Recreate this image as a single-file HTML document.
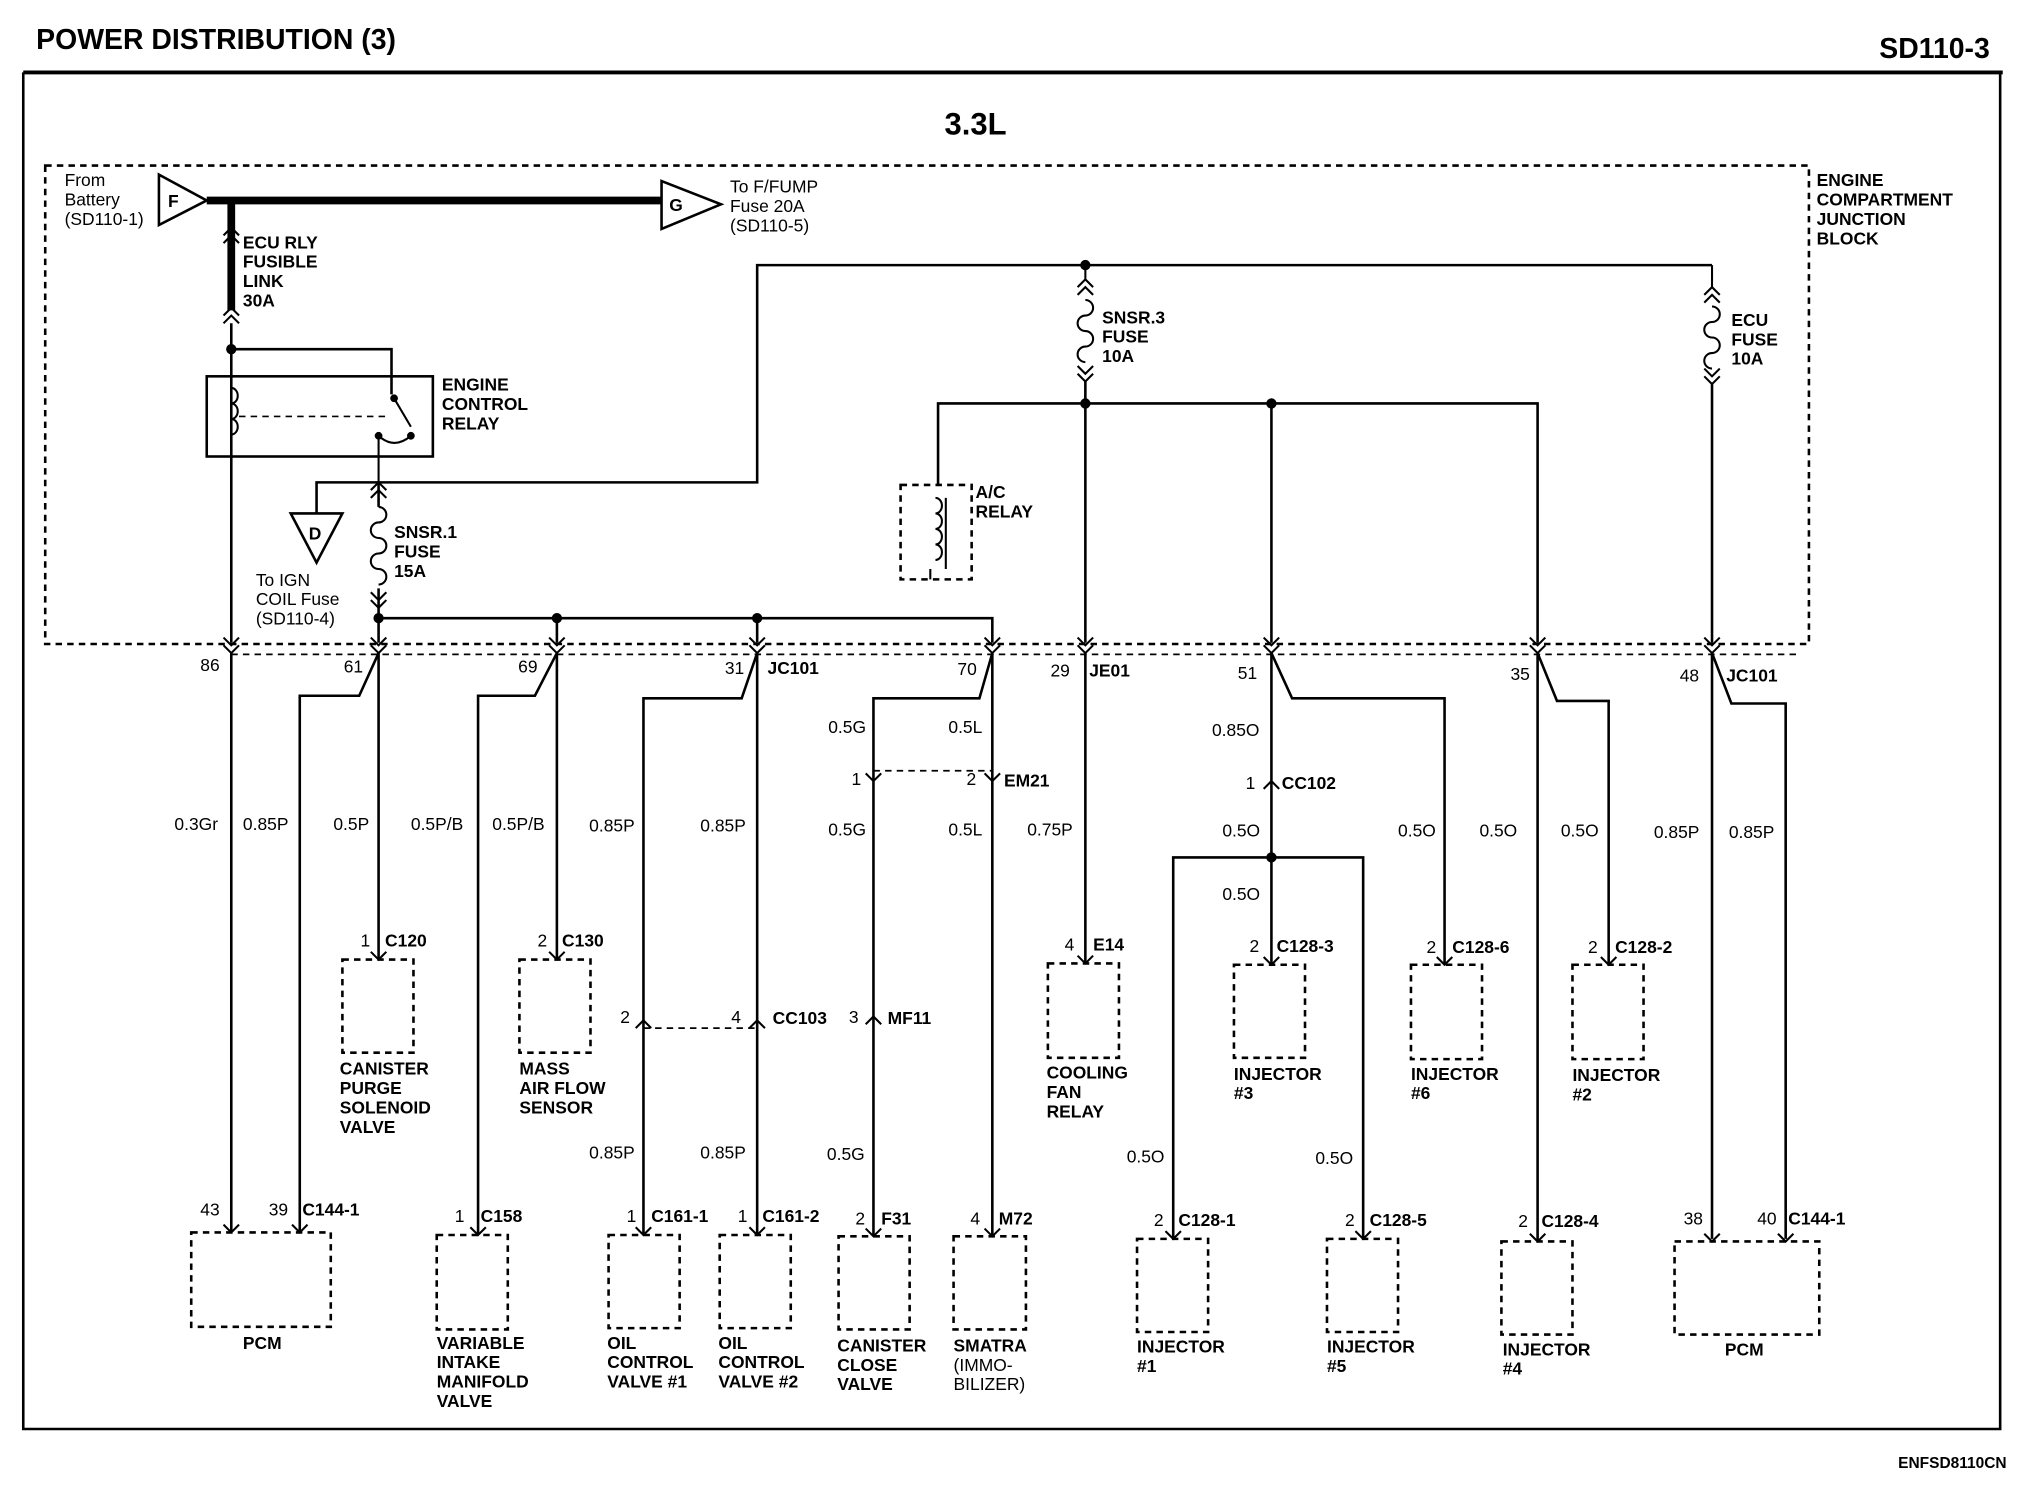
<!DOCTYPE html>
<html><head><meta charset="utf-8"><style>
html,body{margin:0;padding:0;background:#fff}
svg{display:block}
text{font-family:"Liberation Sans",Arial,sans-serif;font-size:13.5px;fill:#000}
.b{font-weight:bold}
.w{stroke:#000;stroke-width:2;fill:none}
.t{stroke:#000;stroke-width:6;fill:none}
.d{stroke:#000;stroke-width:2;fill:none;stroke-dasharray:5 4}
.dl{stroke:#000;stroke-width:1.3;fill:none;stroke-dasharray:5 4}
.c{stroke:#000;stroke-width:1.6;fill:none}
</style></head><body>
<svg width="2026" height="1504" viewBox="0 0 1568 1163" preserveAspectRatio="none" xmlns="http://www.w3.org/2000/svg">
<rect width="1568" height="1163" fill="#fff"/>
<!-- frame -->
<text x="28" y="38" class="b" style="font-size:22px">POWER DISTRIBUTION (3)</text>
<text x="1540" y="45" class="b" style="font-size:22px" text-anchor="end">SD110-3</text>
<path d="M18 56 H1550" stroke="#000" stroke-width="3"/>
<path d="M18 56 V1105 H1548 V56" class="w" stroke-width="1.5"/>
<text x="1553" y="1135" text-anchor="end" style="font-size:12px" class="b">ENFSD8110CN</text>
<text x="755" y="104" class="b" text-anchor="middle" style="font-size:24px">3.3L</text>
<!-- junction block -->
<rect x="35" y="128" width="1365" height="370" class="d"/>
<text class="b" x="1406" y="144">ENGINE</text><text class="b" x="1406" y="159">COMPARTMENT</text><text class="b" x="1406" y="174">JUNCTION</text><text class="b" x="1406" y="189">BLOCK</text>
<!-- F and G -->
<path d="M123 135 L160 155 L123 174 Z" class="w"/><text x="130" y="160" class="b">F</text>
<path d="M160 155 H512" class="t"/>
<path d="M512 140 L558 158 L512 177 Z" class="w"/><text x="518" y="163" class="b">G</text>
<text x="50" y="144">From</text><text x="50" y="159">Battery</text><text x="50" y="174">(SD110-1)</text>
<text x="565" y="149">To F/FUMP</text><text x="565" y="164">Fuse 20A</text><text x="565" y="179">(SD110-5)</text>
<!-- fusible link -->
<path d="M179 155 V240" class="t"/>
<path d="M173 182 L179 176 L185 182 M173 188 L179 182 L185 188 M173 244 L179 238 L185 244 M173 250 L179 244 L185 250" class="c"/>
<text class="b" x="188" y="192">ECU RLY</text><text class="b" x="188" y="207">FUSIBLE</text><text class="b" x="188" y="222">LINK</text><text class="b" x="188" y="237">30A</text>
<circle cx="179" cy="270" r="4"/>
<path d="M179 250 V497 M179 270 H303 V305" class="w"/>
<rect x="160" y="291" width="175" height="62" class="w" stroke-width="3"/>
<path d="M179 300 a5 6 0 0 1 0 12 a5 6 0 0 1 0 12 a5 6 0 0 1 0 12" class="c"/>
<path d="M185 322 H300" class="dl"/>
<circle cx="305" cy="308" r="3"/><circle cx="318" cy="337" r="3"/><circle cx="293" cy="337" r="3"/>
<path d="M305 308 L318 330 M293 337 V372 M293 337 Q305 348 318 337" class="c"/>
<text class="b" x="342" y="302">ENGINE</text><text class="b" x="342" y="317">CONTROL</text><text class="b" x="342" y="332">RELAY</text>
<!-- SNSR.1 -->
<path d="M293 372 V392 M293 455 V497" class="w"/>
<path d="M287 379 L293 373 L299 379 M287 385 L293 379 L299 385 M293 392 a6 6 0 0 1 0 12 a6 6 0 0 0 0 12 a6 6 0 0 1 0 12 a6 6 0 0 0 0 12 a6 6 0 0 1 0 12 M287 458 L293 464 L299 458 M287 464 L293 470 L299 464" class="c"/>
<text class="b" x="305" y="416">SNSR.1</text><text class="b" x="305" y="431">FUSE</text><text class="b" x="305" y="446">15A</text>
<path d="M293 373 H245 V397" class="w"/>
<path d="M225 397 H265 L245 435 Z" class="w"/><text x="239" y="417" class="b">D</text>
<text x="198" y="453">To IGN</text><text x="198" y="468">COIL Fuse</text><text x="198" y="483">(SD110-4)</text>
<path d="M293 373 H586 V205 H1325" class="w"/>
<!-- SNSR.3 -->
<circle cx="840" cy="205" r="4"/>
<path d="M834 222 L840 216 L846 222 M834 228 L840 222 L846 228 M840 205 V216 M840 232 a6 6 0 0 1 0 12 a6 6 0 0 0 0 12 a6 6 0 0 1 0 12 a6 6 0 0 0 0 12 M834 283 L840 289 L846 283 M834 289 L840 295 L846 289" class="c"/>
<text class="b" x="853" y="250">SNSR.3</text><text class="b" x="853" y="265">FUSE</text><text class="b" x="853" y="280">10A</text>
<circle cx="840" cy="312" r="4"/><circle cx="984" cy="312" r="4"/>
<path d="M840 295 V497 M726 375 V312 H1190 V497 M984 312 V497" class="w"/>
<rect x="697" y="375" width="55" height="73" class="d"/>
<path d="M724 385 a5 6 0 0 1 0 12 a5 6 0 0 1 0 12 a5 6 0 0 1 0 12 a5 6 0 0 1 0 12 M732 385 V440 M720 440 V448" class="c"/>
<text class="b" x="755" y="385">A/C</text><text class="b" x="755" y="400">RELAY</text>
<!-- ECU fuse -->
<path d="M1319 228 L1325 222 L1331 228 M1319 234 L1325 228 L1331 234 M1325 205 V222 M1325 237 a6 6 0 0 1 0 12 a6 6 0 0 0 0 12 a6 6 0 0 1 0 12 a6 6 0 0 0 0 12 M1319 285 L1325 291 L1331 285 M1319 291 L1325 297 L1331 291" class="c"/>
<path d="M1325 297 V497" class="w"/>
<text class="b" x="1340" y="252">ECU</text><text class="b" x="1340" y="267">FUSE</text><text class="b" x="1340" y="282">10A</text>
<!-- 478 bus -->
<path d="M293 478 H768 V497 M431 478 V497 M586 478 V497" class="w"/>
<circle cx="293" cy="478" r="4"/><circle cx="431" cy="478" r="4"/><circle cx="586" cy="478" r="4"/>
<!-- terminal chevrons -->
<g class="c">
<path d="M173 493 L179 499 L185 493 M173 499 L179 505 L185 499"/>
<path d="M287 493 L293 499 L299 493 M287 499 L293 505 L299 499"/>
<path d="M425 493 L431 499 L437 493 M425 499 L431 505 L437 499"/>
<path d="M580 493 L586 499 L592 493 M580 499 L586 505 L592 499"/>
<path d="M762 493 L768 499 L774 493 M762 499 L768 505 L774 499"/>
<path d="M834 493 L840 499 L846 493 M834 499 L840 505 L846 499"/>
<path d="M978 493 L984 499 L990 493 M978 499 L984 505 L990 499"/>
<path d="M1184 493 L1190 499 L1196 493 M1184 499 L1190 505 L1196 499"/>
<path d="M1319 493 L1325 499 L1331 493 M1319 499 L1325 505 L1331 499"/>
</g>
<path d="M179 506 H1390" class="dl"/>
<text x="155" y="519">86</text><text x="266" y="520">61</text><text x="401" y="520">69</text><text x="561" y="521">31</text><text class="b" x="594" y="521">JC101</text>
<text x="741" y="522">70</text><text x="813" y="523">29</text><text class="b" x="843" y="523">JE01</text><text x="958" y="525">51</text><text x="1169" y="526">35</text><text x="1300" y="527">48</text><text class="b" x="1336" y="527">JC101</text>
<!-- wires -->
<g class="w">
<path d="M179 505 V952"/>
<path d="M293 505 L278 538 H232 V952"/>
<path d="M293 505 V742"/>
<path d="M431 505 L414 538 H370 V955"/>
<path d="M431 505 V742"/>
<path d="M586 505 L574 540 H498 V955"/>
<path d="M586 505 V955"/>
<path d="M768 505 L758 540 H676 V955"/>
<path d="M768 505 V955"/>
<path d="M840 505 V745"/>
<path d="M984 505 V746"/>
<path d="M984 505 L1000 540 H1118 V746"/>
<path d="M908 958 V663 H1055 V958"/>
<path d="M1190 505 V960"/>
<path d="M1190 505 L1205 542 H1245 V746"/>
<path d="M1325 505 V958"/>
<path d="M1325 505 L1340 544 H1382 V958"/>
</g>
<circle cx="984" cy="663" r="4"/>
<!-- inline connectors -->
<g class="c">
<path d="M492 795 L498 789 L504 795 M580 795 L586 789 L592 795 M670 792 L676 786 L682 792 M978 610 L984 604 L990 610 M670 598 L676 604 L682 598 M762 598 L768 604 L774 598"/>
</g>
<path d="M498 795 H586 M676 596 H768" class="dl"/>
<text x="480" y="791">2</text><text x="566" y="791">4</text><text class="b" x="598" y="792">CC103</text>
<text x="657" y="791">3</text><text class="b" x="687" y="792">MF11</text>
<text x="659" y="607">1</text><text x="748" y="607">2</text><text class="b" x="777" y="608">EM21</text>
<text x="964" y="610">1</text><text class="b" x="992" y="610">CC102</text>
<!-- wire labels -->
<text x="135" y="642">0.3Gr</text><text x="188" y="642">0.85P</text><text x="258" y="642">0.5P</text><text x="318" y="642">0.5P/B</text><text x="381" y="642">0.5P/B</text>
<text x="456" y="643">0.85P</text><text x="542" y="643">0.85P</text><text x="641" y="567">0.5G</text><text x="734" y="567">0.5L</text>
<text x="641" y="646">0.5G</text><text x="734" y="646">0.5L</text><text x="795" y="646">0.75P</text>
<text x="938" y="569">0.85O</text><text x="946" y="647">0.5O</text><text x="946" y="696">0.5O</text>
<text x="1082" y="647">0.5O</text><text x="1145" y="647">0.5O</text><text x="1208" y="647">0.5O</text><text x="1280" y="648">0.85P</text><text x="1338" y="648">0.85P</text>
<text x="456" y="896">0.85P</text><text x="542" y="896">0.85P</text><text x="640" y="897">0.5G</text><text x="872" y="899">0.5O</text><text x="1018" y="900">0.5O</text>
<!-- mid components -->
<g class="d" stroke-width="1.8">
<rect x="265" y="742" width="55" height="72"/>
<rect x="402" y="742" width="55" height="72"/>
<rect x="811" y="745" width="55" height="73"/>
<rect x="955" y="746" width="55" height="72"/>
<rect x="1092" y="746" width="55" height="73"/>
<rect x="1217" y="746" width="55" height="73"/>
<rect x="148" y="953" width="108" height="73"/>
<rect x="338" y="955" width="55" height="73"/>
<rect x="471" y="955" width="55" height="72"/>
<rect x="557" y="955" width="55" height="72"/>
<rect x="649" y="956" width="55" height="72"/>
<rect x="738" y="956" width="56" height="72"/>
<rect x="880" y="958" width="55" height="72"/>
<rect x="1027" y="958" width="55" height="72"/>
<rect x="1162" y="960" width="55" height="72"/>
<rect x="1296" y="960" width="112" height="72"/>
</g>
<g class="c">
<path d="M287 736 L293 742 L299 736 M425 736 L431 742 L437 736 M834 739 L840 745 L846 739 M978 740 L984 746 L990 740 M1112 740 L1118 746 L1124 740 M1239 740 L1245 746 L1251 740"/>
<path d="M173 947 L179 953 L185 947 M226 947 L232 953 L238 947 M364 949 L370 955 L376 949 M492 949 L498 955 L504 949 M580 949 L586 955 L592 949 M670 950 L676 956 L682 950 M762 950 L768 956 L774 950 M902 952 L908 958 L914 952 M1049 952 L1055 958 L1061 952 M1184 954 L1190 960 L1196 954 M1319 954 L1325 960 L1331 954 M1376 954 L1382 960 L1388 954"/>
</g>
<text x="279" y="732">1</text><text class="b" x="298" y="732">C120</text>
<text x="416" y="732">2</text><text class="b" x="435" y="732">C130</text>
<text x="824" y="735">4</text><text class="b" x="846" y="735">E14</text>
<text x="967" y="736">2</text><text class="b" x="988" y="736">C128-3</text>
<text x="1104" y="737">2</text><text class="b" x="1124" y="737">C128-6</text>
<text x="1229" y="737">2</text><text class="b" x="1250" y="737">C128-2</text>
<text class="b" x="263" y="831">CANISTER</text><text class="b" x="263" y="846">PURGE</text><text class="b" x="263" y="861">SOLENOID</text><text class="b" x="263" y="876">VALVE</text>
<text class="b" x="402" y="831">MASS</text><text class="b" x="402" y="846">AIR FLOW</text><text class="b" x="402" y="861">SENSOR</text>
<text class="b" x="810" y="834">COOLING</text><text class="b" x="810" y="849">FAN</text><text class="b" x="810" y="864">RELAY</text>
<text class="b" x="955" y="835">INJECTOR</text><text class="b" x="955" y="850">#3</text>
<text class="b" x="1092" y="835">INJECTOR</text><text class="b" x="1092" y="850">#6</text>
<text class="b" x="1217" y="836">INJECTOR</text><text class="b" x="1217" y="851">#2</text>
<!-- bottom labels -->
<text x="155" y="940">43</text><text x="208" y="940">39</text><text class="b" x="234" y="940">C144-1</text>
<text x="352" y="945">1</text><text class="b" x="372" y="945">C158</text>
<text x="485" y="945">1</text><text class="b" x="504" y="945">C161-1</text>
<text x="571" y="945">1</text><text class="b" x="590" y="945">C161-2</text>
<text x="662" y="947">2</text><text class="b" x="682" y="947">F31</text>
<text x="751" y="947">4</text><text class="b" x="773" y="947">M72</text>
<text x="893" y="948">2</text><text class="b" x="912" y="948">C128-1</text>
<text x="1041" y="948">2</text><text class="b" x="1060" y="948">C128-5</text>
<text x="1175" y="949">2</text><text class="b" x="1193" y="949">C128-4</text>
<text x="1303" y="947">38</text><text x="1360" y="947">40</text><text class="b" x="1384" y="947">C144-1</text>
<text class="b" x="188" y="1043">PCM</text>
<text class="b" x="338" y="1043">VARIABLE</text><text class="b" x="338" y="1058">INTAKE</text><text class="b" x="338" y="1073">MANIFOLD</text><text class="b" x="338" y="1088">VALVE</text>
<text class="b" x="470" y="1043">OIL</text><text class="b" x="470" y="1058">CONTROL</text><text class="b" x="470" y="1073">VALVE #1</text>
<text class="b" x="556" y="1043">OIL</text><text class="b" x="556" y="1058">CONTROL</text><text class="b" x="556" y="1073">VALVE #2</text>
<text class="b" x="648" y="1045">CANISTER</text><text class="b" x="648" y="1060">CLOSE</text><text class="b" x="648" y="1075">VALVE</text>
<text class="b" x="738" y="1045">SMATRA</text><text x="738" y="1060">(IMMO-</text><text x="738" y="1075">BILIZER)</text>
<text class="b" x="880" y="1046">INJECTOR</text><text class="b" x="880" y="1061">#1</text>
<text class="b" x="1027" y="1046">INJECTOR</text><text class="b" x="1027" y="1061">#5</text>
<text class="b" x="1163" y="1048">INJECTOR</text><text class="b" x="1163" y="1063">#4</text>
<text class="b" x="1335" y="1048">PCM</text>
</svg>
</body></html>
